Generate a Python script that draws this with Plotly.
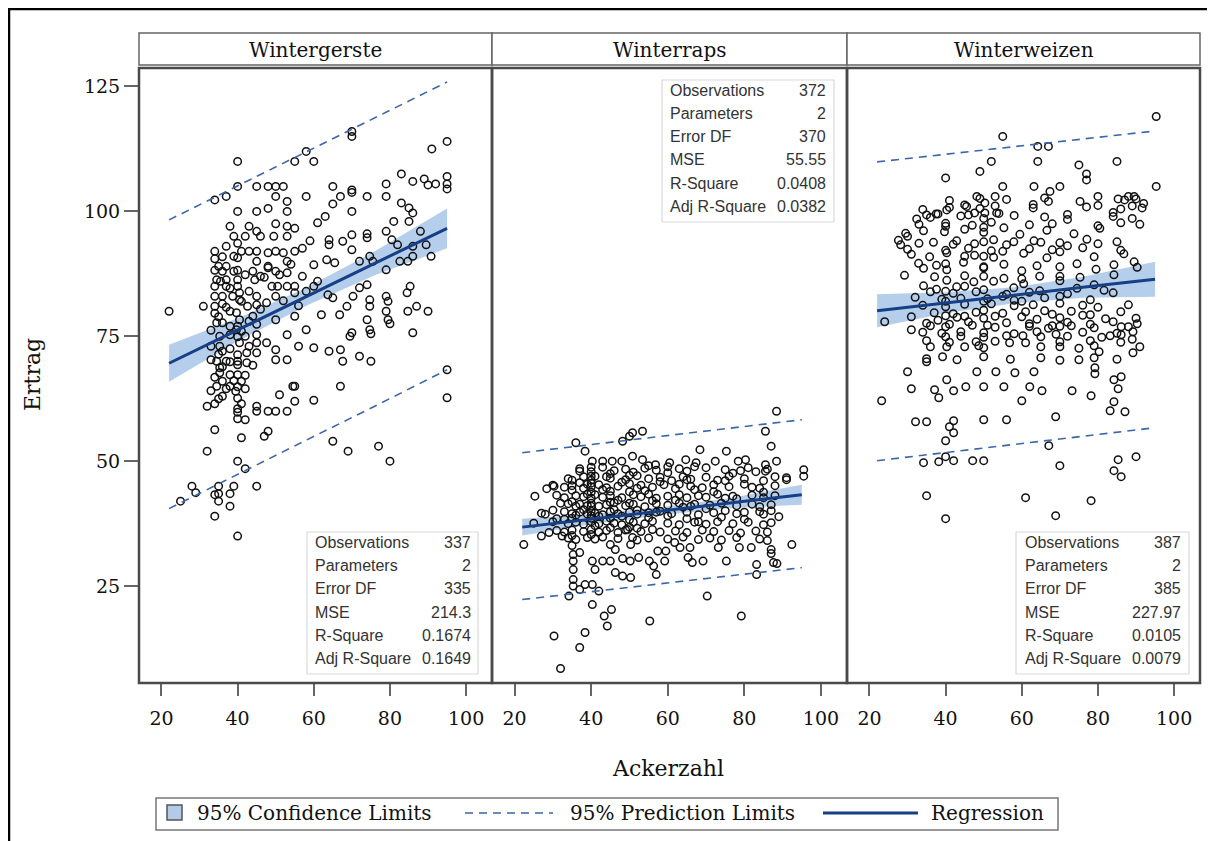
import plotly.graph_objects as go

# ---------------- data ----------------
panels = ["Wintergerste", "Winterraps", "Winterweizen"]

gerste_points = [
    (70, 116), (70, 115), (58, 112), (55, 110), (60, 110), (40, 110), (91, 112.5), (95, 114), (83, 107.5), (86, 106),
    (89, 106.5), (90, 105.3), (92, 105.5), (95, 107), (95, 105.5), (95, 104.5), (79, 105.5), (79, 103), (74, 103), (70, 104.3),
    (70, 103.8), (67, 103), (65, 105), (65, 101.5), (63, 99), (70, 100), (58, 103), (40, 105), (45, 105), (48, 105),
    (50, 105), (52, 105), (34, 102.3), (37, 103), (50, 103), (53, 102), (53, 100), (40, 100), (45, 100), (83, 101.7),
    (85, 100.7), (86, 99.7), (85, 98), (81, 98), (88, 96), (89.5, 93.3), (90.8, 91), (38, 97), (43, 97), (45, 96),
    (39, 95), (42, 95), (46, 95), (49.5, 95), (53, 95), (53, 97), (34, 92), (34, 90.5), (35, 89), (37, 89),
    (40, 90.7), (43, 92), (45, 92), (45, 90), (48, 89), (50, 92), (52, 91.7), (55, 92), (53, 90), (50, 88),
    (53, 87.7), (48, 88.7), (42, 87.3), (44.5, 86.3), (34.5, 86.3), (35.5, 86), (37, 86.3), (34, 85), (37, 85), (40, 86.3),
    (40, 85), (40.5, 83.7), (34, 83), (36, 83), (38.7, 83), (40.5, 82.3), (36, 81.5), (31, 81), (34, 81), (34, 79.6),
    (22, 80), (49, 85), (50.5, 85), (53, 85), (55, 85), (55, 83.7), (50, 83), (45, 83), (47.6, 81.7), (45, 81.3),
    (42.6, 81), (50, 78.3), (55, 79), (62, 79.3), (34.5, 77.7), (36, 77.7), (39.7, 79.7), (40.5, 78.3), (38, 77), (39.7, 76.3),
    (35.3, 75), (40.5, 73.7), (33, 70.3), (34.5, 70), (35.3, 68.7), (35.3, 67.7), (38, 67.3), (40, 70), (40, 69.3), (42.4, 69.7),
    (40, 71.3), (42.4, 71.7), (35.3, 73), (38, 75.3), (45, 75.3), (45, 73.7), (47.6, 73.7), (50, 72.3), (53, 75.3), (56, 73),
    (58, 76.3), (60, 72.7), (64, 72), (67, 72.3), (67.6, 70), (72, 71), (75, 70), (50, 70.3), (45, 71.7), (53, 70.3),
    (60, 89.3), (63.4, 90.3), (64, 94.3), (64, 93.3), (65.5, 89.7), (67.6, 94), (70, 95.3), (70, 92.3), (72, 90), (74, 94.7),
    (74.7, 91), (75.5, 90), (74, 95.5), (79, 96), (80.5, 94.3), (82, 93.3), (86, 93), (86, 91), (84.7, 90), (82.6, 90),
    (79, 88.3), (63.7, 83.3), (65, 82.7), (70.3, 83), (72, 84.7), (74, 85.3), (74.7, 82.3), (79, 83), (79.5, 82), (84.5, 83.7),
    (85.3, 85), (87, 81), (90, 80), (84.7, 80), (79, 80), (74.7, 81), (68.7, 81), (66.8, 79.3), (74, 78.3), (79.5, 78.3),
    (80, 77.5), (74.7, 76.3), (75, 75.5), (70, 75.7), (69.5, 75), (86, 75.7), (58, 84), (60, 85), (57, 87), (61, 86),
    (36, 66), (37, 70), (41, 66), (42, 75), (43, 78), (36, 72), (38, 80), (41, 82), (43, 84), (44, 88),
    (46, 87), (39, 88), (41, 92), (37, 93), (33, 73), (38, 72.5), (41, 76), (44, 79), (36, 88), (39, 91),
    (33, 64.1), (34, 66.8), (35, 62.5), (36, 68.9), (37, 64.5), (38, 69.9), (39, 66.1), (40, 62.6), (40, 64.9), (40, 67.3),
    (40, 74.9), (40, 77), (40, 88.2), (40, 93.6), (41, 61.5), (42, 64.5), (42, 67.2), (43, 73), (35, 78.9), (36, 90.9),
    (37, 80.8), (38, 84.6), (34, 88.2), (33, 76.2), (35, 71.4), (44, 69.2), (45, 77.4), (46, 80.4), (47, 86.8), (48, 91.7),
    (51, 87.3), (52, 82.1), (54, 89.4), (55, 96.6), (50, 97.5), (48, 100.6), (56, 81.1), (57, 92.6), (59, 94.1), (61, 97.7),
    (32, 61), (34, 61.5), (40, 60.5), (40, 59.8), (40, 58.5), (42, 58.3), (45, 61), (45, 60), (48, 60), (50, 60),
    (53, 60), (51, 63.3), (55, 62), (60, 62.2), (67, 65), (54.5, 65), (55, 65), (34.5, 65), (36, 63), (38, 65),
    (39.5, 64), (25, 42), (28, 45), (29, 43.7), (34, 43.3), (35, 45), (35, 43.5), (35, 42), (38, 43.5), (39, 45),
    (38, 41), (34, 39), (40, 35), (45, 45), (42, 48.5), (40, 50), (32, 52), (41, 54.7), (47, 55), (48, 56),
    (34, 56.3), (65, 54), (69, 52), (77, 53), (80, 50), (95, 62.7), (95, 68.3),
]

raps_points = [
    (88.4, 60), (85.5, 56), (87, 53), (88.4, 50), (85.5, 49.3), (85.5, 48), (36, 53.7), (38.4, 52), (48.2, 54), (50, 55),
    (50.8, 55.7), (53.4, 56), (68.4, 52.3), (75.3, 52), (78.4, 50), (25.3, 43), (28.4, 44.5), (30.3, 45), (37, 48), (40.3, 50),
    (43, 50), (45.5, 50), (48, 50), (50.8, 51), (53.4, 50.3), (56.8, 49.3), (60.5, 49.7), (64.7, 50.3), (67.4, 49.7), (72.4, 50),
    (80.3, 50.3), (91, 46.7), (95.5, 48.3), (95.5, 47), (22.4, 33.3), (27, 35), (29, 35.7), (32.4, 35), (35.3, 31.3), (37, 31.7),
    (35.3, 30), (35.3, 28.3), (35.3, 26.3), (35.3, 25), (37, 24.3), (38.4, 25.3), (40.3, 25.3), (34.2, 23), (40.3, 21.3), (42, 24),
    (43.4, 19), (45.3, 20.3), (44.2, 17), (38.4, 15.7), (30.3, 15), (37, 12.7), (32, 8.5), (55.3, 18), (70.3, 23), (79.2, 19),
    (40.3, 30), (43, 30), (45, 30), (48.2, 30.5), (50.2, 30), (52.4, 30.7), (55.2, 30), (56.3, 29), (57, 27.3), (59.2, 30),
    (41, 28.3), (46.3, 27.7), (48.2, 27), (50.3, 26.7), (65.3, 30.7), (66.4, 29.7), (69.2, 30), (75.3, 30), (83.2, 29.3), (83.2, 27.3),
    (87.6, 29.7), (88.5, 29.5), (92.4, 33.3), (57.4, 32), (59.5, 32), (61.8, 33.7), (63.2, 32.7), (65.8, 32.7), (73.2, 32.7), (78.7, 32.7),
    (81.8, 32.7), (87, 32.3), (87, 31.5), (45, 33.3), (46.3, 32.3), (50.3, 33.3), (50.8, 34.7), (49.5, 36.3),
    (37, 48.5), (40, 47.9), (43, 48.8), (46, 48.1), (49, 48.4), (51, 47.8), (54, 48.6), (57, 48.2), (60, 47.7), (63, 48.5),
    (65, 48), (67, 48.9), (75, 48.3), (77, 47.6), (79, 48.1), (81, 48.7), (83, 47.9), (86, 48.4),
    (34, 46.5), (38, 46.9), (40, 46.2), (41, 47), (45, 46.6), (49, 46.3), (52, 47.1), (55, 46.5), (58, 46.8), (61, 46.1),
    (64, 46.9), (66, 46.4), (70, 46.8), (73, 46.2), (76, 47), (80, 46.5), (85, 46.1), (91, 46.3),
    (30, 45.2), (33, 44.8), (35, 45.1), (38, 44.6), (39, 45.4), (40, 44.9), (42, 45.3), (44, 44.7), (47, 45), (50, 45.5),
    (52, 44.6), (53, 45.2), (56, 44.8), (59, 45.3), (62, 44.5), (66, 45), (69, 44.7), (72, 45.3), (76, 44.9), (80, 45.4),
    (84, 44.6), (88, 45.1),
    (31, 43.2), (33, 42.7), (36, 43.1), (38, 42.9), (39, 43.4), (40, 42.6), (41, 43.3), (43, 42.8), (45, 43.1), (48, 42.7),
    (51, 43.3), (53, 42.9), (55, 43.4), (57, 42.6), (60, 43), (63, 43.3), (65, 42.7), (68, 43.1), (70, 42.8), (73, 43.4),
    (75, 42.6), (77, 43), (82, 43.2), (85, 42.7), (88, 43.1),
    (34, 41.5), (36, 41), (37, 41.4), (39, 41.1), (40, 41.6), (42, 41), (44, 41.3), (46, 41.7), (49, 41.1), (51, 41.4),
    (54, 40.9), (57, 41.5), (60, 41.2), (63, 41.6), (66, 41), (67, 41.4), (71, 41.2), (74, 41.6), (78, 41.1), (82, 41.4),
    (84, 40.9), (87, 41.3),
    (27, 39.6), (33, 39.9), (35, 39.5), (37, 39.8), (39, 39.4), (40, 40), (41, 39.6), (43, 39.3), (45, 39.9), (47, 39.5),
    (50, 39.8), (52, 39.4), (55, 39.7), (58, 40), (61, 39.5), (65, 39.8), (68, 39.3), (72, 39.7), (75, 40.1), (78, 39.5),
    (80, 39.8), (85, 39.4),
    (25, 37.6), (30, 37.9), (34, 37.5), (36, 37.8), (38, 37.4), (40, 37.9), (42, 37.5), (44, 38), (46, 37.6), (48, 37.3),
    (51, 37.8), (54, 37.5), (56, 38), (60, 37.6), (63, 37.3), (67, 37.8), (70, 37.4), (73, 37.9), (77, 37.5), (81, 37.8),
    (85, 37.3), (87, 37.7),
    (31, 36.1), (33, 35.8), (35, 36.2), (38, 35.9), (40, 36.3), (42, 35.8), (44, 36.1), (47, 35.7), (49, 36.2), (53, 35.9),
    (56, 36.3), (58, 35.8), (62, 36), (65, 35.7), (69, 36.2), (72, 35.9), (76, 36.1), (79, 35.6), (83, 36), (86, 35.8),
    (34, 34.6), (36, 34.3), (39, 34.7), (41, 34.4), (43, 34.8), (47, 34.5), (52, 34.2), (55, 34.6), (60, 34.4), (64, 34.8),
    (68, 34.3), (71, 34.6), (74, 34.2), (78, 34.7), (84, 34.4), (86, 34.1),
    (40, 38.6), (40, 39.1), (40, 43.8), (40, 45.6), (40, 47), (40, 48.8), (40, 41), (40, 35.3), (35, 38.6), (35, 41.9),
    (35, 44.2), (35, 46.2), (35, 35.1), (35, 33.1), (45, 38.6), (45, 41.8), (45, 44), (45, 47.5), (45, 36.7), (50, 38.3),
    (50, 41.6), (50, 43.9), (50, 47.2), (50, 36.8), (38, 40.3), (42, 39), (43, 44.3), (37, 45.7), (36, 39.2), (44, 46.9),
    (47, 42.2), (48, 45.8), (52, 40.2), (54, 44.1), (55, 38.7), (56, 42.1), (58, 45.9), (60, 39.1), (62, 42.2), (63, 45.4),
    (65, 38.5), (67, 44.3), (70, 40.5), (72, 43.9), (74, 38.8), (75, 46.1), (78, 42.5), (80, 38.4), (82, 44.8), (84, 39.9),
    (85, 43.8), (87, 40.1), (88, 46.9), (89, 38.9), (60, 48.9), (55, 49.1), (70, 48.7), (65, 46.3), (33, 38.4), (32, 41.6),
    (30, 40.2), (28, 39.4), (31, 38.5), (41, 37.1), (46, 40.3), (48, 39), (52, 36.6), (57, 39.8), (64, 40.8), (68, 37.9),
]

weizen_points = [
    (95.3, 119), (95.3, 105), (55, 115), (64.2, 113), (67, 113), (52, 110), (49, 108), (64.2, 110), (75, 109.3), (77, 107.5),
    (77, 106.3), (85, 110), (40, 106.7), (48.2, 103), (53, 103), (55, 105), (63.2, 105), (67.4, 104), (70, 105), (75.3, 102),
    (80, 103), (85.3, 102.5), (88, 103), (89.5, 103), (91.6, 100.7), (67, 102), (32.4, 98.5), (35, 99.3), (37.5, 99.5), (40.3, 100.3),
    (30, 95), (28.2, 93.3), (45.5, 101), (47.6, 99.7), (50.3, 101.7), (50.3, 99.7), (53.4, 99.7),
    (27.6, 94.2), (29.5, 95.6), (34.2, 96.1), (36.8, 93.8), (39.7, 95.9), (42.9, 94.1), (45, 96.4), (47.6, 93.5), (50, 95.8), (52.6, 94.3),
    (55.3, 96.7), (57.9, 93.9), (59.5, 95.4), (63.2, 94.1), (66.6, 96.2), (70, 93.7), (73.7, 95.5), (77.1, 94.4), (80.5, 96.6), (85, 93.9),
    (31, 91.4), (32.9, 89.6), (35.8, 90.9), (37.6, 89.2), (40.3, 91.7), (44.7, 89.8), (47.6, 91.2), (50, 88.9), (52.6, 90.8), (55.3, 89.4),
    (60.5, 91.6), (64, 89.1), (66.6, 90.7), (70, 91.9), (74.5, 89.5), (79, 90.9), (84.2, 89.3), (86.8, 91.5), (89.5, 89.9),
    (29.2, 87.2), (34.2, 88.6), (37.1, 86.9), (40.3, 88.3), (45, 87.1), (50, 88.7), (55.3, 86.6), (60, 88.1), (64.7, 87.0), (70, 88.9),
    (75.3, 86.8), (79.5, 88.4), (84.2, 87.3), (90.3, 88.8),
    (34.2, 85.1), (37.6, 84.4), (40.3, 86.2), (42.9, 84.9), (47.4, 85.9), (50, 84.3), (52.6, 86.0), (57.9, 84.7), (60.5, 85.5), (64.7, 84.1),
    (70, 86.1), (74.5, 84.6), (79, 85.3), (81.6, 84.2),
    (32, 82.8), (36, 83.9), (39, 82.4), (42, 83.6), (44, 82.6), (48, 83.9), (51, 82.5), (56, 83.4), (58, 82.2), (62, 83.8),
    (66, 82.7), (72, 83.5), (78, 82.3), (84, 83.7),
    (30, 92.4), (33, 93.6), (40, 92.2), (42, 93.4), (46, 92.6), (50, 93.9), (52, 92.1), (56, 93.3), (62, 92.5), (65, 93.8),
    (68, 92.3), (72, 93.1), (76, 92.7), (80, 93.5), (86, 92.2),
    (33, 97.4), (36, 98.8), (40, 97.6), (44, 99.1), (47, 97.2), (50, 98.6), (52, 97.8), (58, 99.2), (62, 97.3), (66, 98.9),
    (68, 97.5), (72, 98.4), (80, 97.1), (84, 99.0), (86, 97.7), (89, 98.6), (91, 97.4),
    (34, 100.4), (38, 99.5), (41, 100.8), (46, 99.3), (49, 100.6), (54, 99.6), (63, 100.7), (72, 99.4), (77, 100.9), (84, 99.8), (86, 100.5),
    (41, 102.2), (45, 101.3), (49, 102.6), (53, 101.1), (56, 102.4), (63, 101.4), (66, 102.7), (80, 101.2), (87, 102.3), (89, 101.1),
    (90, 102.5), (92, 101.6),
    (34, 81.2), (37, 79.7), (40, 80.9), (42, 79.5), (45, 81.4), (48, 79.8), (50, 80.2), (52, 81.5), (55, 79.6), (58, 81.1),
    (61, 79.9), (63, 81.3), (66, 80.1), (68, 79.4), (70, 81.6), (73, 80.0), (76, 81.2), (78, 79.3), (80, 80.8), (86, 79.9), (88, 81.3),
    (31, 78.9), (35, 77.6), (38, 78.2), (40, 79.1), (41, 77.4), (43, 78.8), (46, 77.9), (50, 78.6), (51, 77.2), (53, 79.0),
    (56, 77.7), (60, 78.9), (62, 77.5), (64, 78.4), (68, 77.1), (70, 78.7), (72, 77.8), (76, 79.2), (78, 77.4), (82, 78.5),
    (84, 77.9), (90, 78.6),
    (24, 77.9), (31, 76.3), (34, 75.8), (36, 77.1), (39, 75.6), (40, 76.9), (44, 75.9), (47, 77.2), (50, 75.7), (53, 76.8),
    (58, 75.5), (62, 77.0), (64, 75.9), (67, 76.6), (69, 75.4), (73, 77.1), (76, 75.8), (79, 76.7), (85, 75.6), (88, 76.9),
    (35, 74.1), (40, 74.9), (41, 73.8), (44, 75.0), (48, 73.9), (50, 74.8), (53, 74.0), (56, 75.1), (61, 73.7), (65, 74.9),
    (70, 73.9), (72, 75.0), (78, 74.1), (81, 74.8), (86, 73.8), (89, 74.4),
    (40, 82), (40, 84), (40, 89.5), (40, 97), (50, 82), (50, 87), (50, 91), (50, 96.8), (45, 85), (45, 91),
    (45, 79), (70, 77), (70, 83), (70, 87), (60, 82), (60, 86.5), (55, 83), (55, 92),
    (36, 72.9), (40.3, 72.9), (45, 72.9), (48.7, 73.1), (50, 72.7), (56.8, 73.7), (60.3, 75.1), (65, 72.9), (70, 72.9), (75, 72.6),
    (79, 73.1), (80.3, 71.9), (83.2, 75.1), (86.1, 75.3), (89.2, 75.9), (91, 72.9), (86.1, 76.9), (90.3, 77.5),
    (35, 70.5), (39.2, 70.9), (43, 70.3), (50, 70.9), (57, 70.4), (65, 70.7), (70, 70.2), (75, 70.3), (79, 70.7), (85, 70.4), (89.2, 71.7),
    (30, 67.9), (35, 69.9), (48.2, 67.9), (53.2, 67.9), (58.2, 67.7), (63.2, 67.9), (79.2, 68.7), (79.2, 67.5), (84.2, 66.3), (86.1, 66.9),
    (31, 64.5), (37.1, 64.3), (38.2, 62.7), (40.3, 66.3), (42.1, 64.1), (45.3, 64.9), (50, 64.9), (55.3, 64.9), (62.1, 64.9), (65.3, 64.1),
    (73.2, 64.1), (78.2, 63.1), (85.3, 64.5),
    (23.2, 62.1), (60, 62.1), (84.2, 61.9), (83.2, 60.1), (87.1, 59.9),
    (32.1, 57.9), (35, 57.9), (41, 56.9), (42.1, 58.1), (42.1, 55.7), (50, 58.3), (56, 58.3), (68.9, 58.9), (40, 54.1),
    (34.2, 49.7), (38.2, 49.9), (40, 50.9), (42.1, 50.1), (47.1, 50.1), (50, 50.1), (85.3, 50.3), (90, 50.9),
    (61, 42.7), (67.1, 53.1), (70, 49.1), (78.2, 42.1), (84.2, 48.1), (86.1, 46.9), (35, 43.1), (40, 38.5), (68.9, 39.1),
]

# fitted regression, confidence and prediction limits (read at these Ackerzahl values)
fit_x = [22, 40, 58, 76, 95]
gerste_fit = [69.6, 76.3, 82.9, 89.6, 96.6]
gerste_cl_lo = [65.9, 74.0, 81.1, 87.2, 92.6]
gerste_cl_hi = [73.3, 78.6, 84.7, 92.0, 100.6]
gerste_pl_lo = [40.5, 47.4, 54.2, 61.0, 68.3]
gerste_pl_hi = [98.3, 105.1, 111.9, 118.7, 125.9]

raps_fit = [36.8, 38.4, 40.0, 41.6, 43.3]
raps_cl_lo = [35.1, 37.4, 39.2, 40.6, 41.3]
raps_cl_hi = [38.5, 39.4, 40.8, 42.6, 45.3]
raps_pl_lo = [22.3, 23.9, 25.5, 27.0, 28.7]
raps_pl_hi = [51.7, 53.3, 54.9, 56.6, 58.3]

weizen_fit = [80.1, 81.7, 83.2, 84.8, 86.4]
weizen_cl_lo = [76.8, 79.6, 81.6, 82.7, 82.9]
weizen_cl_hi = [83.4, 83.8, 84.8, 86.9, 89.9]
weizen_pl_lo = [50.1, 51.7, 53.4, 55.0, 56.7]
weizen_pl_hi = [109.9, 111.4, 113.0, 114.5, 116.1]

stat_labels = ["Observations", "Parameters", "Error DF", "MSE", "R-Square", "Adj R-Square"]
gerste_stats = ["337", "2", "335", "214.3", "0.1674", "0.1649"]
raps_stats = ["372", "2", "370", "55.55", "0.0408", "0.0382"]
weizen_stats = ["387", "2", "385", "227.97", "0.0105", "0.0079"]

x_ticks = [20, 40, 60, 80, 100]
y_ticks = [25, 50, 75, 100, 125]
legend_labels = ["95% Confidence Limits", "95% Prediction Limits", "Regression"]
x_title = "Ackerzahl"
y_title = "Ertrag"

# ---------------- styling / layout ----------------
# the page body adds an 8px margin, so the figure is shifted and sized accordingly
OFF = 8
W, H = 1215 - OFF, 841 - OFF
SERIF = "DejaVu Serif"
SANS = "Liberation Sans"
BAND = "rgba(120,165,220,0.55)"
FITC = "#163f85"
PREDC = "#3b66aa"


def fx(p):
    return (p - OFF) / W


def fy(p):
    return 1 - (p - OFF) / H


panel_px = [(139, 492), (492, 847), (847, 1200)]
top_px, bot_px = 68, 683
head_top, head_bot = 33, 65
XR = [14.1, 106.8]
YR = [5.6, 128.7]

series = [
    (gerste_points, gerste_fit, gerste_cl_lo, gerste_cl_hi, gerste_pl_lo, gerste_pl_hi, gerste_stats),
    (raps_points, raps_fit, raps_cl_lo, raps_cl_hi, raps_pl_lo, raps_pl_hi, raps_stats),
    (weizen_points, weizen_fit, weizen_cl_lo, weizen_cl_hi, weizen_pl_lo, weizen_pl_hi, weizen_stats),
]

fig = go.Figure()
shapes = []
annotations = []

for i, (pts, fit, cl_lo, cl_hi, pl_lo, pl_hi, stats) in enumerate(series):
    xa = "x" if i == 0 else f"x{i+1}"
    fig.add_trace(go.Scatter(
        x=fit_x + fit_x[::-1], y=cl_hi + cl_lo[::-1], xaxis=xa, yaxis="y",
        fill="toself", fillcolor=BAND, line=dict(width=0), mode="lines",
        showlegend=False, hoverinfo="skip"))
    fig.add_trace(go.Scatter(
        x=[p[0] for p in pts], y=[p[1] for p in pts], xaxis=xa, yaxis="y",
        mode="markers", marker=dict(symbol="circle-open", size=7.5, color="#111",
                                    line=dict(width=1.5, color="#111")),
        showlegend=False))
    for pl in (pl_lo, pl_hi):
        fig.add_trace(go.Scatter(
            x=fit_x, y=pl, xaxis=xa, yaxis="y", mode="lines",
            line=dict(color=PREDC, width=1.6, dash="8px,6px"), showlegend=False))
    fig.add_trace(go.Scatter(
        x=fit_x, y=fit, xaxis=xa, yaxis="y", mode="lines",
        line=dict(color=FITC, width=3), showlegend=False))

    l, r = panel_px[i]
    shapes.append(dict(type="rect", xref="paper", yref="paper",
                       x0=fx(l), x1=fx(r), y0=fy(head_bot), y1=fy(head_top),
                       line=dict(color="#666", width=1.5), fillcolor="white", layer="above"))
    annotations.append(dict(text=panels[i], xref="paper", yref="paper",
                            x=fx((l + r) / 2), y=fy((head_top + head_bot) / 2 + 1),
                            showarrow=False, xanchor="center", yanchor="middle",
                            font=dict(family=SERIF, size=20, color="#111")))
    shapes.append(dict(type="rect", xref="paper", yref="paper",
                       x0=fx(l), x1=fx(r), y0=fy(bot_px), y1=fy(top_px),
                       line=dict(color="#4a4a4a", width=2.5), layer="above"))

stat_boxes = [(307, 478, 532, 313, 473, 542.3), (662, 834, 80, 668, 828, 90.0), (1016, 1189, 532, 1023, 1183, 542.3)]
for (bl, br, bt, lx, vx, ry), (_, _, _, _, _, _, stats) in zip(stat_boxes, series):
    shapes.append(dict(type="rect", xref="paper", yref="paper",
                       x0=fx(bl), x1=fx(br), y0=fy(bt + 142), y1=fy(bt),
                       line=dict(color="#d9d9d9", width=1.2), fillcolor="rgba(255,255,255,0)"))
    for k, (lab, val) in enumerate(zip(stat_labels, stats)):
        yy = fy(ry + k * 23.3)
        annotations.append(dict(text=lab, xref="paper", yref="paper", x=fx(lx), y=yy,
                                showarrow=False, xanchor="left", yanchor="middle",
                                font=dict(family=SANS, size=16, color="#333")))
        annotations.append(dict(text=val, xref="paper", yref="paper", x=fx(vx), y=yy,
                                showarrow=False, xanchor="right", yanchor="middle",
                                font=dict(family=SANS, size=16, color="#333")))

annotations.append(dict(text=x_title, xref="paper", yref="paper", x=fx(668), y=fy(768),
                        showarrow=False, xanchor="center", yanchor="middle",
                        font=dict(family=SERIF, size=22, color="#111")))
annotations.append(dict(text=y_title, xref="paper", yref="paper", x=fx(32), y=fy(375),
                        showarrow=False, xanchor="center", yanchor="middle", textangle=-90,
                        font=dict(family=SERIF, size=22, color="#111")))

LY = 813
shapes.append(dict(type="rect", xref="paper", yref="paper", x0=fx(156), x1=fx(1058),
                   y0=fy(830), y1=fy(798), line=dict(color="#777", width=1.5)))
shapes.append(dict(type="rect", xref="paper", yref="paper", x0=fx(167), x1=fx(182),
                   y0=fy(820), y1=fy(805), line=dict(color="#555", width=1.5),
                   fillcolor="#b3cbe9"))
shapes.append(dict(type="line", xref="paper", yref="paper", x0=fx(465), x1=fx(553),
                   y0=fy(LY), y1=fy(LY), line=dict(color=PREDC, width=1.6, dash="8px,6px")))
shapes.append(dict(type="line", xref="paper", yref="paper", x0=fx(823), x1=fx(918),
                   y0=fy(LY), y1=fy(LY), line=dict(color=FITC, width=3)))
for lab, lx in zip(legend_labels, [195, 568, 929]):
    annotations.append(dict(text=lab, xref="paper", yref="paper", x=fx(lx), y=fy(LY),
                            showarrow=False, xanchor="left", yanchor="middle",
                            font=dict(family=SERIF, size=20, color="#111")))

shapes.append(dict(type="line", xref="paper", yref="paper", x0=fx(8), x1=fx(1215),
                   y0=fy(9), y1=fy(9), line=dict(color="#000", width=2.5)))
shapes.append(dict(type="line", xref="paper", yref="paper", x0=fx(9), x1=fx(9),
                   y0=fy(9), y1=fy(841), line=dict(color="#000", width=2.5)))

xaxis_common = dict(range=XR, tickvals=x_ticks, ticks="outside", ticklen=12, tickwidth=2,
                    tickcolor="#666", showline=False, showgrid=False, zeroline=False,
                    ticklabelstandoff=6,
                    tickfont=dict(family=SERIF, size=19, color="#111"), anchor="y", fixedrange=True)
layout_axes = {}
for i, (l, r) in enumerate(panel_px):
    key = "xaxis" if i == 0 else f"xaxis{i+1}"
    layout_axes[key] = dict(xaxis_common, domain=[fx(l), fx(r)])

fig.update_layout(
    width=W, height=H, margin=dict(l=0, r=0, t=0, b=0),
    paper_bgcolor="white", plot_bgcolor="white", showlegend=False,
    yaxis=dict(domain=[fy(bot_px), fy(top_px)], range=YR, tickvals=y_ticks, ticks="outside",
               ticklen=14, tickwidth=2, tickcolor="#666", showline=False, showgrid=False,
               zeroline=False, tickfont=dict(family=SERIF, size=19, color="#111"), anchor="x"),
    shapes=shapes, annotations=annotations,
    **layout_axes,
)

fig.write_html("out.html")
